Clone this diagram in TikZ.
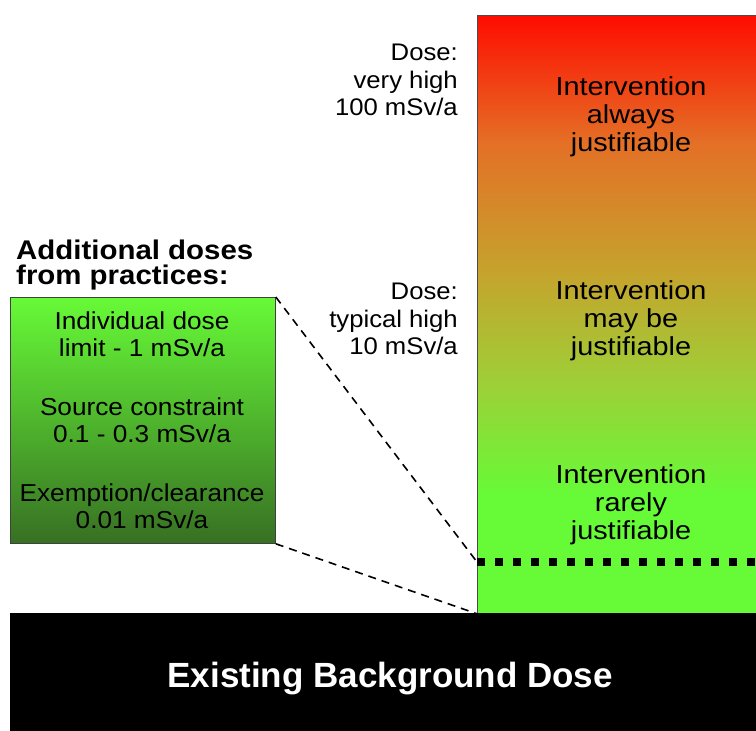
\documentclass[tikz,border=0pt]{standalone}
\usepackage{fontspec}
\setmainfont{Liberation Sans}
\usepackage{xcolor}
\usepackage{tikz}
\usetikzlibrary{calc,positioning}
% pixel-like units, y running downwards
\newcommand{\Wd}{756}
\newcommand{\Ht}{731}
\newcommand{\yThresh}{562}
\newcommand{\wide}[1]{\addfontfeature{FakeStretch=#1}}
\definecolor{doseRed}{RGB}{255,12,0}
\definecolor{doseOrange}{RGB}{228,112,38}
\definecolor{doseOlive}{RGB}{196,165,45}
\definecolor{doseLime}{RGB}{160,205,55}
\definecolor{doseGreen}{RGB}{103,250,55}
\definecolor{practDark}{RGB}{55,112,35}
\pgfdeclareverticalshading{dosebar}{100bp}{color(0bp)=(doseGreen); color(35bp)=(doseGreen);
  color(44.7bp)=(doseLime); color(53.1bp)=(doseOlive); color(64.3bp)=(doseOrange);
  color(75bp)=(doseRed); color(100bp)=(doseRed)}
\tikzset{
  bar/.style       = {draw=black!70, line width=0.8pt, shading=dosebar, inner sep=0pt},
  practbox/.style  = {draw=black!75, line width=0.8pt, top color=doseGreen, bottom color=practDark, inner sep=0pt},
  ground/.style    = {fill=black, text=white, inner sep=0pt, font=\bfseries\fontsize{35}{40}\selectfont},
  barlabel/.style  = {align=center, inner sep=0pt, font=\fontsize{26}{28}\selectfont\wide{1.11}},
  doselabel/.style = {align=right, inner sep=0pt, font=\fontsize{24}{27.5}\selectfont\wide{1.07}},
  practlabel/.style= {align=center, inner sep=0pt, font=\fontsize{24.5}{26.5}\selectfont\wide{1.07}},
  heading/.style   = {align=left, inner sep=0pt, font=\bfseries\fontsize{27}{25}\selectfont\wide{1.09}},
  zoomline/.style  = {line width=1.6pt, dash pattern=on 8pt off 6pt},
  threshold/.style = {line width=8pt, dash pattern=on 8pt off 10pt}
}

\begin{document}
\begin{tikzpicture}[x=1pt,y=-1pt]
  \useasboundingbox (0,0) rectangle (\Wd,\Ht);
  % dose column and background slab
  \node[bar, anchor=north west, minimum width=310pt, minimum height=598pt] (column) at (477,15) {};
  \node[ground, anchor=north west, minimum width=760pt, minimum height=130pt] (background) at (10,613) {Existing Background Dose};
  % threshold between practices and intervention
  \coordinate (thresh) at (column.west |- 0,\yThresh);
  \draw[threshold] (thresh) -- (thresh -| column.east);
  % interventions inside the column
  \node[barlabel] (always) at (631,117) {Intervention\\always\\justifiable};
  \node[barlabel] (maybe)  at (631,321) {Intervention\\may be\\justifiable};
  \node[barlabel] (rarely) at (631,505) {Intervention\\rarely\\justifiable};
  % dose levels
  \node[doselabel, anchor=east] (veryhigh) at (458,80)  {Dose:\\very high\\100 mSv/a};
  \node[doselabel, anchor=east] (typhigh)  at (458,319) {Dose:\\typical high\\10 mSv/a};
  % practices box
  \node[heading, anchor=west] (addhead) at (16,265) {Additional doses\\from practices:};
  \node[practbox, anchor=north west, minimum width=265pt, minimum height=246pt] (practices) at (10,297) {};
  \node[practlabel] (limit)      at (142,334) {Individual dose\\limit - 1 mSv/a};
  \node[practlabel] (constraint) at (142,420) {Source constraint\\0.1 - 0.3 mSv/a};
  \node[practlabel] (exemption)  at (142,506) {Exemption/clearance\\0.01 mSv/a};
  % zoom lines to the column
  \draw[zoomline] (practices.north east) -- (thresh);
  \draw[zoomline] (practices.south east) -- (column.south west);
\end{tikzpicture}
\end{document}
